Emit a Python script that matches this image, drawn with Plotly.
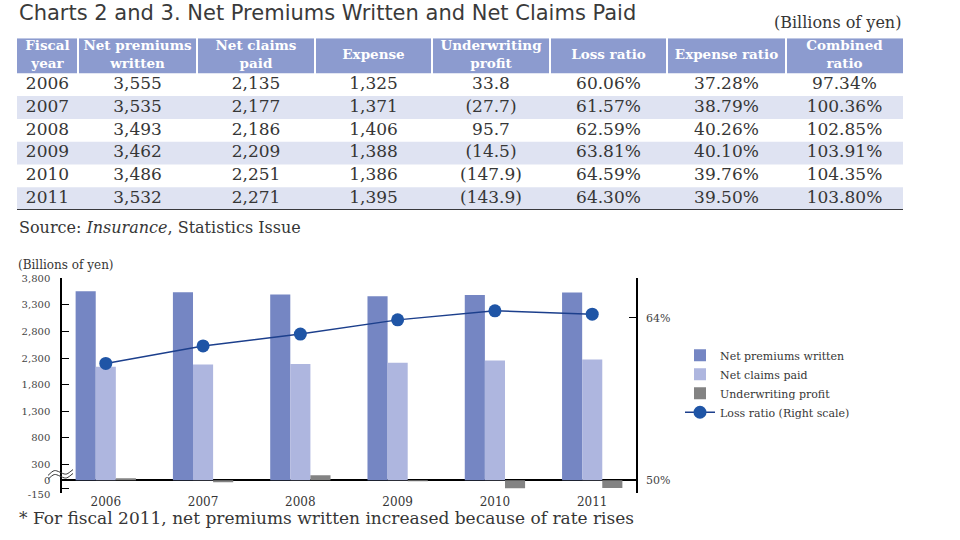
import plotly.graph_objects as go

# ---------------- data ----------------
years = ["2006", "2007", "2008", "2009", "2010", "2011"]
net_premiums = [3555, 3535, 3493, 3462, 3486, 3532]
net_claims = [2135, 2177, 2186, 2209, 2251, 2271]
expense = [1325, 1371, 1406, 1388, 1386, 1395]
underwriting = [33.8, -27.7, 95.7, -14.5, -147.9, -143.9]
loss_ratio = [60.06, 61.57, 62.59, 63.81, 64.59, 64.30]
expense_ratio = [37.28, 38.79, 40.26, 40.10, 39.76, 39.50]
combined_ratio = [97.34, 100.36, 102.85, 103.91, 104.35, 103.80]

header_labels = ["Fiscal<br>year", "Net premiums<br>written", "Net claims<br>paid",
                 "Expense", "Underwriting<br>profit", "Loss ratio", "Expense ratio",
                 "Combined<br>ratio"]
left_tickvals = [-150, 0, 300, 800, 1300, 1800, 2300, 2800, 3300, 3800]
right_tickvals = [50, 64]

W, H = 960, 540
SERIF = "DejaVu Serif"


def px_x(x):
    return x / W


def px_y(y):
    return 1 - y / H


def fmt_int(v):
    return f"{v:,}"


def fmt_profit(v):
    return f"({abs(v):.1f})" if v < 0 else f"{v:.1f}"


def fmt_pct(v):
    return f"{v:.2f}%"


def fmt_tick(v):
    # negative tick label dropped half a line so it sits at the axis end, as in the source
    return f"<br>{v:,}" if v < 0 else f"{v:,}"


# colors
C_HEAD = "#8c9bcf"
C_SHADE = "#dfe3f2"
C_PREM = "#7586c3"
C_CLAIM = "#aeb6df"
C_UW = "#838383"
C_LINE = "#1c3f8c"
C_DOT = "#1f55a6"
C_TEXT = "#363636"

# table geometry (pixels)
TBL_L, TBL_R, TBL_T, TBL_B = 17, 903, 33, 209
col_widths = [61, 119, 118, 117, 118, 117, 119, 117]
HEAD_H = 36
ROW_H = (TBL_B - TBL_T - HEAD_H) / len(years)

col_edges = [0]
for w in col_widths:
    col_edges.append(col_edges[-1] + w)
col_centers = [(col_edges[i] + col_edges[i + 1]) / 2 for i in range(len(col_widths))]

fig = go.Figure()

# ---------------- chart ----------------
fig.add_trace(go.Bar(
    x=years, y=net_premiums, name="Net premiums written",
    marker=dict(color=C_PREM, line=dict(width=0)),
))
fig.add_trace(go.Bar(
    x=years, y=net_claims, name="Net claims paid",
    marker=dict(color=C_CLAIM, line=dict(width=0)),
))
fig.add_trace(go.Bar(
    x=years, y=underwriting, name="Underwriting profit",
    marker=dict(color=C_UW, line=dict(width=0)),
))
fig.add_trace(go.Scatter(
    x=years, y=loss_ratio, name="Loss ratio (Right scale)", yaxis="y2",
    mode="lines+markers",
    line=dict(color=C_LINE, width=1.5),
    marker=dict(color=C_DOT, size=13),
))

# ---------------- table (own hidden axes) ----------------
cols = [
    years,
    [fmt_int(v) for v in net_premiums],
    [fmt_int(v) for v in net_claims],
    [fmt_int(v) for v in expense],
    [fmt_profit(v) for v in underwriting],
    [fmt_pct(v) for v in loss_ratio],
    [fmt_pct(v) for v in expense_ratio],
    [fmt_pct(v) for v in combined_ratio],
]
fig.add_trace(go.Scatter(
    x=col_centers, y=[HEAD_H / 2] * len(header_labels),
    text=[f"<b>{h}</b>" for h in header_labels],
    mode="text", textposition="middle center",
    textfont=dict(family=SERIF, size=13.5, color="white"),
    xaxis="x3", yaxis="y3", showlegend=False, hoverinfo="skip", cliponaxis=False,
))
cell_x, cell_y, cell_t = [], [], []
for ci, col in enumerate(cols):
    for ri, val in enumerate(col):
        cell_x.append(col_centers[ci])
        cell_y.append(HEAD_H + ROW_H * (ri + 0.5))
        cell_t.append(val)
fig.add_trace(go.Scatter(
    x=cell_x, y=cell_y, text=cell_t,
    mode="text", textposition="middle center",
    textfont=dict(family=SERIF, size=17, color=C_TEXT),
    xaxis="x3", yaxis="y3", showlegend=False, hoverinfo="skip", cliponaxis=False,
))

shapes = []
# header cells
for i in range(len(col_widths)):
    x0 = col_edges[i] + (0 if i == 0 else 1)
    x1 = col_edges[i + 1] - (0 if i == len(col_widths) - 1 else 1)
    shapes.append(dict(type="rect", xref="x3", yref="y3", x0=x0, x1=x1, y0=0, y1=HEAD_H,
                       fillcolor=C_HEAD, line=dict(width=0), layer="below"))
# shaded rows
for ri in range(len(years)):
    if ri % 2 == 1:
        shapes.append(dict(type="rect", xref="x3", yref="y3", x0=0, x1=col_edges[-1],
                           y0=HEAD_H + ROW_H * ri, y1=HEAD_H + ROW_H * (ri + 1),
                           fillcolor=C_SHADE, line=dict(width=0), layer="below"))
# bottom rule
shapes.append(dict(type="line", xref="x3", yref="y3", x0=0, x1=col_edges[-1],
                   y0=TBL_B - TBL_T, y1=TBL_B - TBL_T, line=dict(color="black", width=1.5)))


# axis-break squiggles
def squiggle(y0):
    x0, x1 = px_x(48), px_x(73)
    xm = (x0 + x1) / 2
    return (f"M {x0},{px_y(y0)} C {(x0 + xm) / 2},{px_y(y0 - 6)} {(x0 + xm) / 2},{px_y(y0 - 6)} "
            f"{xm},{px_y(y0 - 3)} S {(xm + x1) / 2},{px_y(y0 - 1)} {x1},{px_y(y0 - 6)}")


shapes.append(dict(type="path", xref="paper", yref="paper", path=squiggle(481),
                   line=dict(color="#333333", width=1)))
shapes.append(dict(type="path", xref="paper", yref="paper", path=squiggle(485),
                   line=dict(color="#333333", width=1)))

PLOT_T, PLOT_B = 279, 499

fig.update_layout(
    width=W, height=H,
    margin=dict(l=0, r=0, t=0, b=0),
    paper_bgcolor="white", plot_bgcolor="rgba(0,0,0,0)",
    barmode="group", bargap=0.38, bargroupgap=0,
    showlegend=True,
    legend=dict(
        x=px_x(680), y=px_y(343), xanchor="left", yanchor="top",
        font=dict(family=SERIF, size=11, color=C_TEXT),
        bgcolor="rgba(0,0,0,0)", tracegroupgap=0, itemwidth=30,
    ),
    xaxis=dict(
        domain=[px_x(62), px_x(636)],
        anchor="y",
        type="category",
        range=[-0.45, 5.45],
        showline=False, showgrid=False, ticks="",
        tickfont=dict(family=SERIF, size=12, color=C_TEXT),
        fixedrange=True,
    ),
    yaxis=dict(
        domain=[px_y(PLOT_B), px_y(PLOT_T)],
        range=[-239, 3800],
        tickvals=left_tickvals,
        ticktext=[fmt_tick(v) for v in left_tickvals],
        showgrid=False,
        showline=True, linecolor="black", linewidth=1.5,
        ticks="inside", ticklen=7, tickcolor="black", tickwidth=1.2,
        ticklabelstandoff=8,
        zeroline=True, zerolinecolor="black", zerolinewidth=1.5,
        tickfont=dict(family=SERIF, size=10, color="#444444"),
    ),
    yaxis2=dict(
        overlaying="y", side="right", anchor="x",
        range=[48.91, 67.39],
        tickvals=[48.91] + right_tickvals + [67.39],
        ticktext=[""] + [f"{v}%" for v in right_tickvals] + [""],
        showgrid=False, zeroline=False,
        showline=True, linecolor="black", linewidth=1.5,
        ticks="inside", ticklen=7, tickcolor="black", tickwidth=1.2,
        ticklabelstandoff=6,
        tickfont=dict(family=SERIF, size=11, color="#444444"),
    ),
    xaxis3=dict(domain=[px_x(TBL_L), px_x(TBL_R)], range=[0, col_edges[-1]],
                visible=False, anchor="y3", fixedrange=True),
    yaxis3=dict(domain=[px_y(TBL_B), px_y(TBL_T)], range=[TBL_B - TBL_T, 0],
                visible=False, anchor="x3", fixedrange=True),
    shapes=shapes,
)

# ---------------- texts ----------------
annos = [
    dict(x=px_x(17), y=px_y(7), text="Charts 2 and 3. Net Premiums Written and Net Claims Paid",
         xanchor="left", yanchor="middle",
         font=dict(family="DejaVu Sans", size=21, color="#3a3a3a")),
    dict(x=px_x(903), y=px_y(17), text="(Billions of yen)",
         xanchor="right", yanchor="middle",
         font=dict(family=SERIF, size=16, color=C_TEXT)),
    dict(x=px_x(17), y=px_y(227), text="Source: <i>Insurance</i>, Statistics Issue",
         xanchor="left", yanchor="middle",
         font=dict(family=SERIF, size=16, color=C_TEXT)),
    dict(x=px_x(16), y=px_y(265), text="(Billions of yen)",
         xanchor="left", yanchor="middle",
         font=dict(family=SERIF, size=12, color=C_TEXT)),
    dict(x=px_x(17), y=px_y(525),
         text="* For fiscal 2011, net premiums written increased because of rate rises",
         xanchor="left", yanchor="middle",
         font=dict(family=SERIF, size=17, color=C_TEXT)),
]
for a in annos:
    a.update(xref="paper", yref="paper", showarrow=False)
fig.update_layout(annotations=annos)

# the page body has a default 8px margin; remove it so the figure fills the window
fig.write_html("out.html", config={"displayModeBar": False},
               post_script="document.body.style.margin='0';")
